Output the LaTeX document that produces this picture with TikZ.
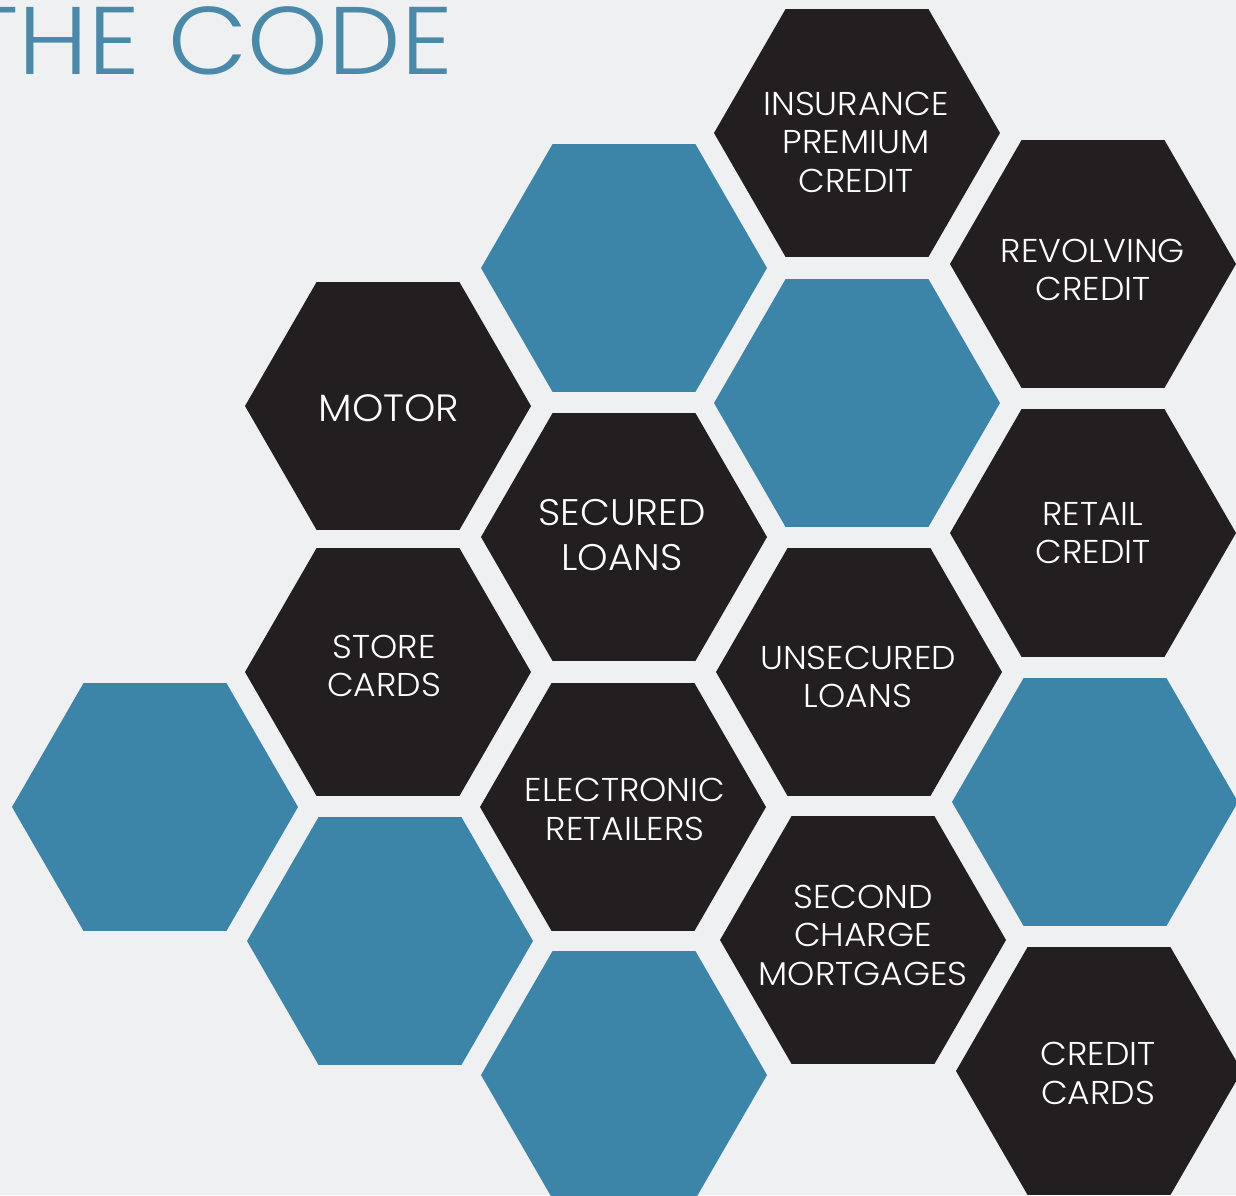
\documentclass[tikz,border=0pt]{standalone}
\usepackage{fontspec}
\usetikzlibrary{shapes.geometric}
\IfFontExistsTF{Poppins Light}
  {\newfontfamily\hexfont{Poppins Light}[FakeStretch=1.05]
   \newfontfamily\titlefont{Poppins Light}[FakeStretch=1.07]}
  {\newfontfamily\hexfont{Poppins}\newfontfamily\titlefont{Poppins}}
\definecolor{bgc}{HTML}{EFF0F2}
\definecolor{darkhex}{HTML}{231F20}
\definecolor{bluehex}{HTML}{3C84A8}
\definecolor{titlec}{HTML}{4A89A8}
\tikzset{
  hex/.style={regular polygon, regular polygon sides=6, minimum size=286pt,
    inner sep=0pt, outer sep=0pt, draw=none},
  darkh/.style={hex, fill=darkhex},
  blueh/.style={hex, fill=bluehex},
  lbl/.style={text=white, align=center, inner sep=0pt, anchor=center,
    font=\hexfont\fontsize{33}{38.5}\selectfont},
  lblbig/.style={lbl, font=\hexfont\fontsize{37}{45}\selectfont},
  lblmotor/.style={lbl, font=\hexfont\fontsize{38}{45}\selectfont},
}
\begin{document}
\begin{tikzpicture}[x=1pt,y=-1pt]
\useasboundingbox (0,0) rectangle (1236,1195);
\fill[bgc] (0,0) rectangle (1236,1195);
\clip (0,0) rectangle (1236,1195);
% hexagons
\node[darkh] (h1) at (857,133) {};
\node[blueh] (h2) at (624,268) {};
\node[darkh] (h3) at (1093,264) {};
\node[blueh] (h4) at (857,403) {};
\node[darkh] (h5) at (388,406) {};
\node[darkh] (h6) at (624,537) {};
\node[darkh] (h7) at (1093,533) {};
\node[darkh] (h8) at (388,672) {};
\node[darkh] (h9) at (859,672) {};
\node[blueh] (h10) at (155,807) {};
\node[darkh] (h11) at (623,807) {};
\node[blueh] (h12) at (1095,802) {};
\node[blueh] (h13) at (390,941) {};
\node[darkh] (h14) at (863,940) {};
\node[blueh] (h15) at (624,1075) {};
\node[darkh] (h16) at (1099,1071) {};
% labels
\node[lbl] (t1) at (856,142) {INSURANCE\\PREMIUM\\CREDIT};
\node[lbl] (t3) at (1093,270) {REVOLVING\\CREDIT};
\node[lblmotor] (t5) at (389,408.5) {MOTOR};
\node[lblbig] (t6) at (622,535) {SECURED\\LOANS};
\node[lbl] (t7) at (1093,533) {RETAIL\\CREDIT};
\node[lbl] (t8) at (384,666) {STORE\\CARDS};
\node[lbl] (t9) at (858,677) {UNSECURED\\LOANS};
\node[lbl] (t11) at (625,809.5) {ELECTRONIC\\RETAILERS};
\node[lbl] (t14) at (863,935) {SECOND\\CHARGE\\MORTGAGES};
\node[lbl] (t16) at (1098,1073.5) {CREDIT\\CARDS};
% title (cut at the left edge, as in the reference)
\node[text=titlec, inner sep=0pt, anchor=base east,
  font=\titlefont\fontsize{96}{100}\selectfont] (title) at (453,74) {THE CODE};
\end{tikzpicture}
\end{document}
